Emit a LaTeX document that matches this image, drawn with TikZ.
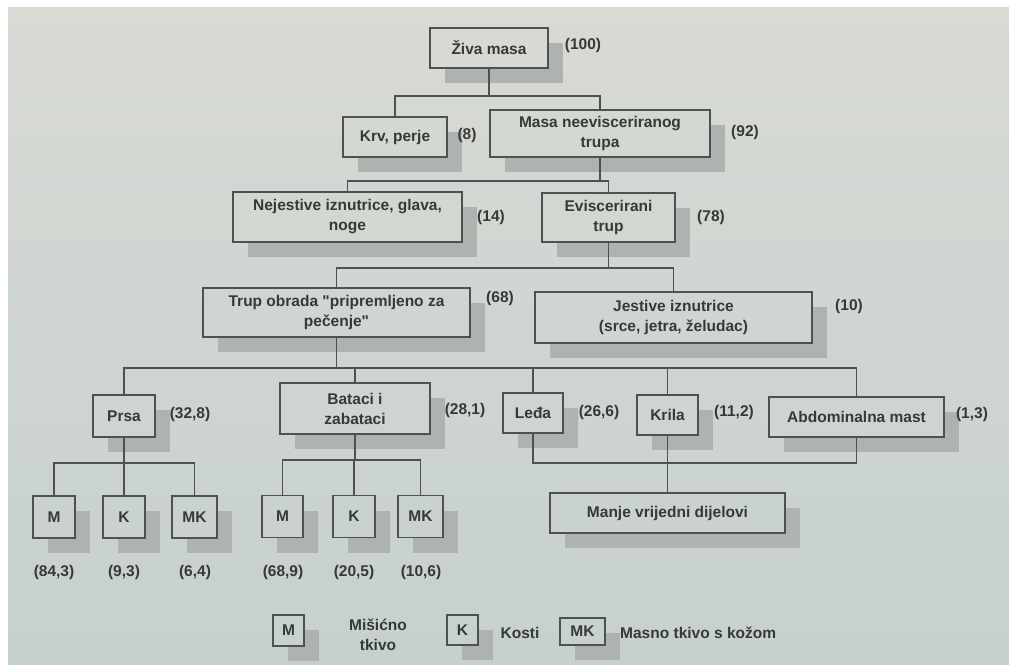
\documentclass[tikz,border=0pt]{standalone}
\usepackage{fontspec}
\setmainfont{Liberation Sans}
\newfontfamily\lsans{Liberation Sans}
\usetikzlibrary{shadows}
\definecolor{bgtop}{HTML}{D8DAD4}
\definecolor{bgbot}{HTML}{C6D0CF}
\definecolor{ink}{HTML}{383838}
\definecolor{edge}{HTML}{505050}
\definecolor{shd}{HTML}{AFB3B0}
\colorlet{r1}{bgbot!8!bgtop}
\colorlet{r2}{bgbot!20!bgtop}
\colorlet{r3}{bgbot!33!bgtop}
\colorlet{r4}{bgbot!48!bgtop}
\colorlet{r5}{bgbot!62!bgtop}
\colorlet{r6}{bgbot!78!bgtop}
\colorlet{r7}{bgbot!95!bgtop}
\tikzset{
  txt/.style={text=ink, font=\lsans\bfseries\fontsize{15.5}{20}\selectfont},
  box/.style={txt, draw=edge, line width=1.1pt, fill=#1, inner sep=0pt, align=center,
    drop shadow={shadow xshift=15pt, shadow yshift=-15pt, fill=shd, opacity=1}},
  lab/.style={txt, inner sep=0pt, align=center},
  conn/.style={draw=edge, line width=1.3pt}
}
\begin{document}
\begin{tikzpicture}[x=1pt,y=-1pt]
\useasboundingbox (0,0) rectangle (1009,664);
\fill[white] (0,0) rectangle (1009,664);
\shade[top color=bgtop, bottom color=bgbot] (8,7) rectangle (1009,664);

% boxes
\node[box=r1, minimum width=118pt, minimum height=40pt] (ziva) at (489,48) {Živa masa};
\node[lab] (l100) at (583,45) {(100)};
\node[box=r2, minimum width=104pt, minimum height=40pt] (krv) at (395,137) {Krv, perje};
\node[lab] (l8) at (467,135) {(8)};
\node[box=r2, minimum width=220pt, minimum height=47pt] (masa) at (600,133.5) {Masa neevisceriranog\\trupa};
\node[lab] (l92) at (745,132) {(92)};
\node[box=r3, minimum width=229pt, minimum height=50pt] (nejest) at (347.5,217) {Nejestive iznutrice, glava,\\noge};
\node[lab] (l14) at (491,217) {(14)};
\node[box=r3, minimum width=133pt, minimum height=49pt] (evisc) at (608.5,217.5) {Eviscerirani\\trup};
\node[lab] (l78) at (711,217) {(78)};
\node[box=r4, minimum width=267pt, minimum height=49pt] (trup) at (336.5,312.5) {Trup obrada "pripremljeno za\\pečenje"};
\node[lab] (l68) at (500,298) {(68)};
\node[box=r4, minimum width=277pt, minimum height=51pt] (jest) at (673.5,317.5) {Jestive iznutrice\\(srce, jetra, želudac)};
\node[lab] (l10) at (849,306) {(10)};

\node[box=r5, minimum width=62pt, minimum height=42pt] (prsa) at (124,416) {Prsa};
\node[lab] (l328) at (190,414) {(32,8)};
\node[box=r5, minimum width=150pt, minimum height=51pt] (bataci) at (355,408.5) {Bataci i\\zabataci};
\node[lab] (l281) at (465,410) {(28,1)};
\node[box=r5, minimum width=60pt, minimum height=40pt] (leda) at (533,413) {Leđa};
\node[lab] (l266) at (599,412) {(26,6)};
\node[box=r5, minimum width=61pt, minimum height=40pt] (krila) at (667.5,415) {Krila};
\node[lab] (l112) at (734,412) {(11,2)};
\node[box=r5, minimum width=175pt, minimum height=40pt] (abdom) at (856.5,417) {Abdominalna mast};
\node[lab] (l13) at (972,414) {(1,3)};
\node[box=r6, minimum width=235pt, minimum height=40pt] (manje) at (667.5,513) {Manje vrijedni dijelovi};

\node[box=r6, minimum width=42pt, minimum height=42pt] (m1) at (54,517) {M};
\node[box=r6, minimum width=42pt, minimum height=42pt] (k1) at (124,517) {K};
\node[box=r6, minimum width=45pt, minimum height=42pt] (mk1) at (194.5,517) {MK};
\node[box=r6, minimum width=41pt, minimum height=42pt] (m2) at (282.5,516.5) {M};
\node[box=r6, minimum width=42pt, minimum height=42pt] (k2) at (354,516.5) {K};
\node[box=r6, minimum width=45pt, minimum height=42pt] (mk2) at (420.5,516.5) {MK};
\node[lab] (v1) at (54,572) {(84,3)};
\node[lab] (v2) at (124,572) {(9,3)};
\node[lab] (v3) at (195,572) {(6,4)};
\node[lab] (v4) at (283,572) {(68,9)};
\node[lab] (v5) at (354,572) {(20,5)};
\node[lab] (v6) at (421,572) {(10,6)};

% legend
\node[box=r7, minimum width=31pt, minimum height=31pt] (lm) at (288.5,630.5) {M};
\node[lab] (lmt) at (378,635) {Mišićno\\tkivo};
\node[box=r7, minimum width=31pt, minimum height=30pt] (lk) at (462.5,630) {K};
\node[lab] (lkt) at (520,633) {Kosti};
\node[box=r7, minimum width=45pt, minimum height=27pt] (lmk) at (582.5,631.5) {MK};
\node[lab, anchor=west] (lmkt) at (620,633) {Masno tkivo s kožom};

% connectors
\coordinate (y1) at (0,96);
\coordinate (y2) at (0,181);
\coordinate (y3) at (0,268);
\coordinate (y4) at (0,368);
\coordinate (y5) at (0,463);
\coordinate (y6) at (0,460);
\draw[conn] (ziva.south) -- (ziva.south |- y1);
\draw[conn] (krv.north) |- (masa.north |- y1) -- (masa.north);
\draw[conn] (masa.south) -- (masa.south |- y2);
\draw[conn] (nejest.north) |- (evisc.north |- y2) -- (evisc.north);
\draw[conn] (evisc.south) -- (evisc.south |- y3);
\draw[conn] (trup.north) |- (jest.north |- y3) -- (jest.north);
\draw[conn] (trup.south) -- (trup.south |- y4);
\draw[conn] (prsa.north) |- (abdom.north |- y4) -- (abdom.north);
\draw[conn] (bataci.north) -- (bataci.north |- y4);
\draw[conn] (leda.north) -- (leda.north |- y4);
\draw[conn] (krila.north) -- (krila.north |- y4);
\draw[conn] (prsa.south) -- (prsa.south |- y5);
\draw[conn] (m1.north) |- (mk1.north |- y5) -- (mk1.north);
\draw[conn] (k1.north) -- (k1.north |- y5);
\draw[conn] (bataci.south) -- (bataci.south |- y6);
\draw[conn] (m2.north) |- (mk2.north |- y6) -- (mk2.north);
\draw[conn] (k2.north) -- (k2.north |- y6);
\draw[conn] (leda.south) |- (abdom.south |- y5) -- (abdom.south);
\draw[conn] (krila.south) -- (manje.north);
\end{tikzpicture}
\end{document}
